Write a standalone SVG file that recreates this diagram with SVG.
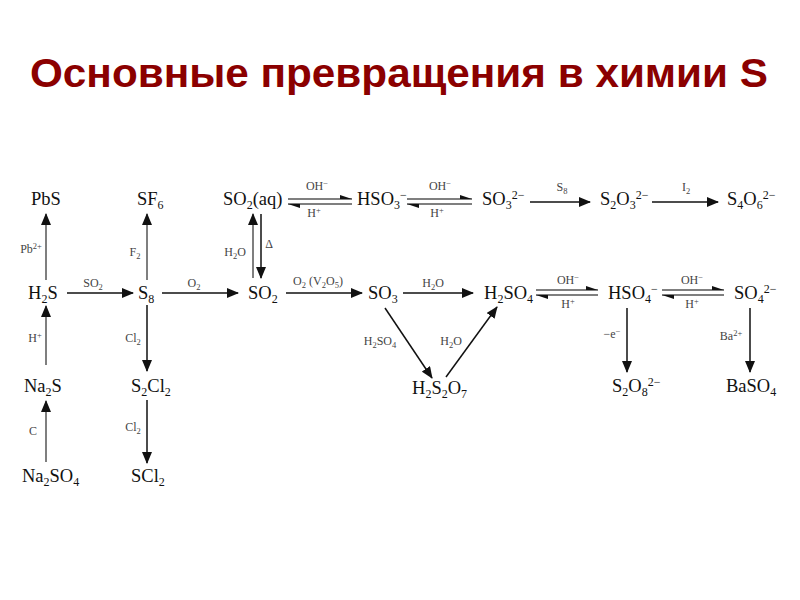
<svg xmlns="http://www.w3.org/2000/svg" width="800" height="600" viewBox="0 0 800 600">
<style>
.t{font-family:"Liberation Sans",Arial,sans-serif;font-weight:bold;font-size:40px;fill:#8b0000}
.c{font-family:"Liberation Serif","Times New Roman",serif;font-size:18.5px;fill:#111}
.l{font-family:"Liberation Serif","Times New Roman",serif;font-size:12px;fill:#444;text-anchor:middle}
.s{font-size:12px}
.ls{font-size:8.5px}
.a{stroke:#111;stroke-width:1.5;fill:none}
.g{stroke:#555;stroke-width:1.5;fill:none}
.h{fill:#111}
</style>
<defs>
<marker id="ah" viewBox="0 0 12 10" refX="11" refY="5" markerWidth="12" markerHeight="10" markerUnits="userSpaceOnUse" orient="auto"><path d="M0,0 L12,5 L0,10 Z" fill="#111"/></marker>
</defs>
<rect width="800" height="600" fill="#fff"/>
<text class="t" x="399" y="87" text-anchor="middle" textLength="738" lengthAdjust="spacingAndGlyphs">Основные превращения в химии S</text>

<g id="connectors">
<line class="g" x1="46" y1="280" x2="46" y2="214" marker-end="url(#ah)"/>
<line class="g" x1="147" y1="280" x2="147" y2="214" marker-end="url(#ah)"/>
<line class="g" x1="253" y1="278" x2="253" y2="214" marker-end="url(#ah)"/>
<line class="a" x1="261" y1="214" x2="261" y2="278" marker-end="url(#ah)"/>
<line class="a" x1="67" y1="293" x2="133" y2="293" marker-end="url(#ah)"/>
<line class="a" x1="162" y1="293" x2="238" y2="293" marker-end="url(#ah)"/>
<line class="a" x1="286" y1="293" x2="362" y2="293" marker-end="url(#ah)"/>
<line class="a" x1="403" y1="293" x2="473" y2="293" marker-end="url(#ah)"/>
<line class="a" x1="530" y1="202" x2="590" y2="202" marker-end="url(#ah)"/>
<line class="a" x1="652" y1="202" x2="718" y2="202" marker-end="url(#ah)"/>
<line class="a" x1="385" y1="308" x2="432" y2="378" marker-end="url(#ah)"/>
<line class="a" x1="446" y1="377" x2="497" y2="307" marker-end="url(#ah)"/>
<line class="a" x1="627" y1="308" x2="627" y2="372" marker-end="url(#ah)"/>
<line class="a" x1="750" y1="308" x2="750" y2="372" marker-end="url(#ah)"/>
<line class="g" x1="46" y1="365" x2="46" y2="306" marker-end="url(#ah)"/>
<line class="g" x1="46" y1="462" x2="46" y2="401" marker-end="url(#ah)"/>
<line class="a" x1="147" y1="305" x2="147" y2="371" marker-end="url(#ah)"/>
<line class="a" x1="147" y1="400" x2="147" y2="463" marker-end="url(#ah)"/>
<g id="eq1"><line class="g" x1="288" y1="199" x2="352" y2="199"/><path class="h" d="M352,199 L340,195 L340,199 Z"/><line class="g" x1="288" y1="204" x2="352" y2="204"/><path class="h" d="M288,204 L300,208 L300,204 Z"/></g>
<g id="eq2"><line class="g" x1="407" y1="199" x2="472" y2="199"/><path class="h" d="M472,199 L460,195 L460,199 Z"/><line class="g" x1="407" y1="204" x2="472" y2="204"/><path class="h" d="M407,204 L419,208 L419,204 Z"/></g>
<g id="eq3"><line class="g" x1="536" y1="290" x2="598" y2="290"/><path class="h" d="M598,290 L586,286 L586,290 Z"/><line class="g" x1="536" y1="295" x2="598" y2="295"/><path class="h" d="M536,295 L548,299 L548,295 Z"/></g>
<g id="eq4"><line class="g" x1="662" y1="290" x2="724" y2="290"/><path class="h" d="M724,290 L712,286 L712,290 Z"/><line class="g" x1="662" y1="295" x2="724" y2="295"/><path class="h" d="M662,295 L674,299 L674,295 Z"/></g>
</g>

<g id="labels">
<text class="l" x="31" y="253">Pb<tspan class="ls" dy="-4">2+</tspan></text>
<text class="l" x="135" y="256">F<tspan class="ls" dy="3">2</tspan></text>
<text class="l" x="235" y="256">H<tspan class="ls" dy="3">2</tspan><tspan dy="-3">O</tspan></text>
<text class="l" x="269" y="248">Δ</text>
<text class="l" x="93" y="287">SO<tspan class="ls" dy="3">2</tspan></text>
<text class="l" x="194" y="287">O<tspan class="ls" dy="3">2</tspan></text>
<text class="l" x="318" y="285">O<tspan class="ls" dy="3">2</tspan><tspan dy="-3">  (V</tspan><tspan class="ls" dy="3">2</tspan><tspan dy="-3">O</tspan><tspan class="ls" dy="3">5</tspan><tspan dy="-3">)</tspan></text>
<text class="l" x="433" y="287">H<tspan class="ls" dy="3">2</tspan><tspan dy="-3">O</tspan></text>
<text class="l" x="317" y="190">OH<tspan class="ls" dy="-4">−</tspan></text>
<text class="l" x="314" y="217">H<tspan class="ls" dy="-4">+</tspan></text>
<text class="l" x="440" y="190">OH<tspan class="ls" dy="-4">−</tspan></text>
<text class="l" x="437" y="217">H<tspan class="ls" dy="-4">+</tspan></text>
<text class="l" x="562" y="191">S<tspan class="ls" dy="3">8</tspan></text>
<text class="l" x="686" y="191">I<tspan class="ls" dy="3">2</tspan></text>
<text class="l" x="568" y="284">OH<tspan class="ls" dy="-4">−</tspan></text>
<text class="l" x="568" y="308">H<tspan class="ls" dy="-4">+</tspan></text>
<text class="l" x="692" y="284">OH<tspan class="ls" dy="-4">−</tspan></text>
<text class="l" x="692" y="308">H<tspan class="ls" dy="-4">+</tspan></text>
<text class="l" x="380" y="345">H<tspan class="ls" dy="3">2</tspan><tspan dy="-3">SO</tspan><tspan class="ls" dy="3">4</tspan></text>
<text class="l" x="451" y="345">H<tspan class="ls" dy="3">2</tspan><tspan dy="-3">O</tspan></text>
<text class="l" x="612" y="338">−e<tspan class="ls" dy="-4">−</tspan></text>
<text class="l" x="731" y="340">Ba<tspan class="ls" dy="-4">2+</tspan></text>
<text class="l" x="35" y="342">H<tspan class="ls" dy="-4">+</tspan></text>
<text class="l" x="33" y="435">C</text>
<text class="l" x="133" y="342">Cl<tspan class="ls" dy="3">2</tspan></text>
<text class="l" x="133" y="431">Cl<tspan class="ls" dy="3">2</tspan></text>
</g>

<g id="PbS"><text class="c" x="31" y="205">PbS</text></g>
<g id="SF6"><text class="c" x="137" y="205">SF<tspan class="s" dy="4">6</tspan></text></g>
<g id="SO2aq"><text class="c" x="223" y="205">SO<tspan class="s" dy="4">2</tspan><tspan dy="-4">(aq)</tspan></text></g>
<g id="HSO3"><text class="c" x="357" y="205">HSO<tspan class="s" dy="4">3</tspan><tspan class="s" dy="-10">−</tspan></text></g>
<g id="SO3_2"><text class="c" x="482" y="205">SO<tspan class="s" dy="4">3</tspan><tspan class="s" dy="-10">2−</tspan></text></g>
<g id="S2O3"><text class="c" x="600" y="205">S<tspan class="s" dy="4">2</tspan><tspan dy="-4">O</tspan><tspan class="s" dy="4">3</tspan><tspan class="s" dy="-10">2−</tspan></text></g>
<g id="S4O6"><text class="c" x="727" y="205">S<tspan class="s" dy="4">4</tspan><tspan dy="-4">O</tspan><tspan class="s" dy="4">6</tspan><tspan class="s" dy="-10">2−</tspan></text></g>
<g id="H2S"><text class="c" x="28" y="299">H<tspan class="s" dy="4">2</tspan><tspan dy="-4">S</tspan></text></g>
<g id="S8"><text class="c" x="138" y="299">S<tspan class="s" dy="4">8</tspan></text></g>
<g id="SO2"><text class="c" x="248" y="299">SO<tspan class="s" dy="4">2</tspan></text></g>
<g id="SO3"><text class="c" x="368" y="299">SO<tspan class="s" dy="4">3</tspan></text></g>
<g id="H2SO4"><text class="c" x="484" y="299">H<tspan class="s" dy="4">2</tspan><tspan dy="-4">SO</tspan><tspan class="s" dy="4">4</tspan></text></g>
<g id="HSO4"><text class="c" x="608" y="299">HSO<tspan class="s" dy="4">4</tspan><tspan class="s" dy="-10">−</tspan></text></g>
<g id="SO4"><text class="c" x="734" y="299">SO<tspan class="s" dy="4">4</tspan><tspan class="s" dy="-10">2−</tspan></text></g>
<g id="H2S2O7"><text class="c" x="412" y="394">H<tspan class="s" dy="4">2</tspan><tspan dy="-4">S</tspan><tspan class="s" dy="4">2</tspan><tspan dy="-4">O</tspan><tspan class="s" dy="4">7</tspan></text></g>
<g id="S2O8"><text class="c" x="612" y="392">S<tspan class="s" dy="4">2</tspan><tspan dy="-4">O</tspan><tspan class="s" dy="4">8</tspan><tspan class="s" dy="-10">2−</tspan></text></g>
<g id="BaSO4"><text class="c" x="726" y="392">BaSO<tspan class="s" dy="4">4</tspan></text></g>
<g id="Na2S"><text class="c" x="24" y="392">Na<tspan class="s" dy="4">2</tspan><tspan dy="-4">S</tspan></text></g>
<g id="S2Cl2"><text class="c" x="131" y="392">S<tspan class="s" dy="4">2</tspan><tspan dy="-4">Cl</tspan><tspan class="s" dy="4">2</tspan></text></g>
<g id="Na2SO4"><text class="c" x="22" y="482">Na<tspan class="s" dy="4">2</tspan><tspan dy="-4">SO</tspan><tspan class="s" dy="4">4</tspan></text></g>
<g id="SCl2"><text class="c" x="131" y="482">SCl<tspan class="s" dy="4">2</tspan></text></g>
</svg>
